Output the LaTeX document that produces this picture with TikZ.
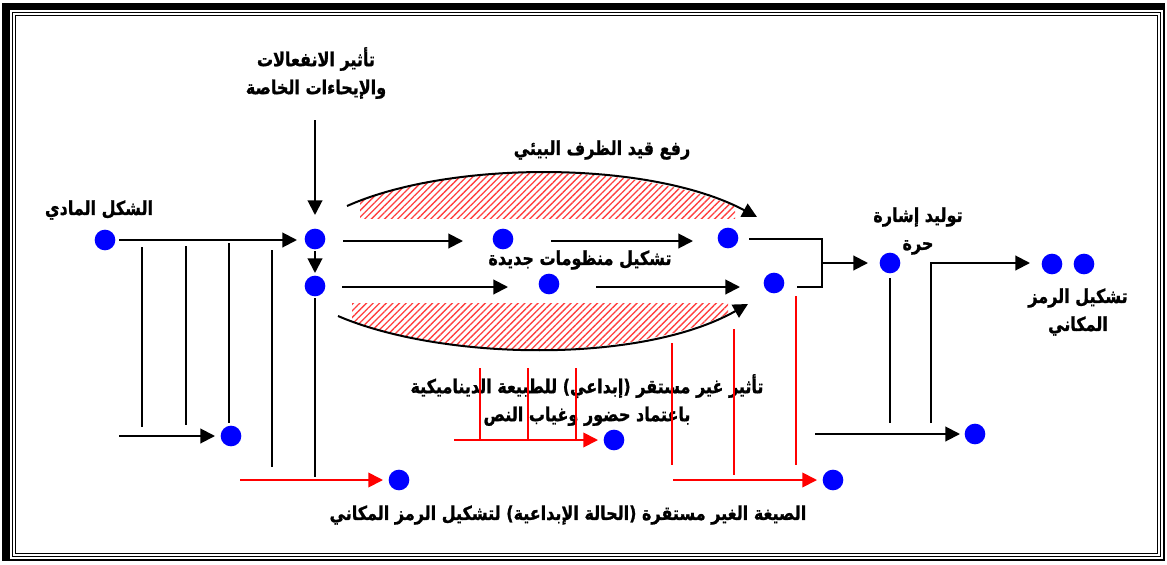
\documentclass[tikz,border=0pt]{standalone}
\usepackage{fontspec}
\usepackage{graphicx}
\newfontfamily\arabicfont[Script=Arabic,BoldFeatures={FakeBold=1.2}]{DejaVu Sans}
\TeXXeTstate=1
\usetikzlibrary{arrows.meta,patterns.meta,calc}
\newcommand\AR[1]{\scalebox{1}[1.2]{\beginR #1\endR}}
\begin{document}
\begin{tikzpicture}[x=0.75pt,y=-0.75pt,
  dot/.style={circle,fill=blue,inner sep=0,minimum size=15.5pt},
  ln/.style={line width=1.5pt},
  blk/.style={ln,-{Triangle[length=11pt,width=11pt]}},
  rd/.style={line width=1.3pt,red},
  rda/.style={rd,-{Triangle[length=11pt,width=11pt]}},
  lbl/.style={font=\arabicfont\bfseries\fontsize{12}{21}\selectfont,inner sep=0,align=center},
  hatch/.style={pattern={Lines[angle=45,distance=3.5pt,line width=1pt]},pattern color=red!75}]
\useasboundingbox (0,0) rectangle (1167,564);
% frame
\fill[black] (2,3) rectangle (1165,561);
\fill[white] (10,10) rectangle (1163,559);
\draw[line width=1.1pt] (12.5,12.5) rectangle (1160.5,556.5);
\draw[line width=1.1pt] (15.5,15.5) rectangle (1157.5,553.5);
% dots
\node[dot] (A) at (105,240) {};
\node[dot] (B) at (315,239) {};
\node[dot] (C) at (315,286) {};
\node[dot] (D) at (503,239) {};
\node[dot] (E) at (728,238) {};
\node[dot] (F) at (549,284) {};
\node[dot] (G) at (774,283) {};
\node[dot] (H) at (890,263) {};
\node[dot] (I) at (1052,264) {};
\node[dot] (J) at (1084,264) {};
\node[dot] (K) at (231,436) {};
\node[dot] (L) at (399,480) {};
\node[dot] (M) at (614,440) {};
\node[dot] (N) at (833,480) {};
\node[dot] (O) at (975,434) {};
% hatched areas
\begin{scope}
\clip (360,150) rectangle (735,218);
\fill[hatch] (347,206) .. controls (450,160) and (650,160) .. (757,217) -- (757,240) -- (347,240) -- cycle;
\end{scope}
\begin{scope}
\clip (352,303) rectangle (728,370);
\fill[hatch] (338,316) .. controls (440,360) and (640,365) .. (748,304) -- (748,290) -- (338,290) -- cycle;
\end{scope}
% labels
\node[lbl] (tA) at (99,210) {\AR{الشكل المادي}};
\node[lbl] (tTop) at (316,73) {\AR{تأثير الانفعالات}\\\AR{والإيحاءات الخاصة}};
\node[lbl] (tRaf) at (602,150) {\AR{رفع قيد الظرف البيئي}};
\node[lbl] (tTash) at (580,260) {\AR{تشكيل منظومات جديدة}};
\node[lbl] (tH) at (918,231) {\AR{توليد إشارة}\\\AR{حرة}};
\node[lbl] (tIJ) at (1078,312) {\AR{تشكيل الرمز}\\\AR{المكاني}};
\node[lbl] (tMid) at (587,400) {\AR{تأثير غير مستقر (إبداعي)  للطبيعة الديناميكية}\\\AR{باعتماد حضور وغياب النص}};
\node[lbl] (tBot) at (568,515) {\AR{الصيغة الغير مستقرة (الحالة الإبداعية) لتشكيل الرمز المكاني}};
% coordinates
\coordinate (br) at (822,263);
% black connectors
\draw[blk] ($(B)+(0,-119)$) -- ($(B)+(0,-24)$);
\draw[blk] ($(A)+(14,0)$) -- ($(B)+(-18,1)$);
\draw[blk] ($(B)+(0,12)$) -- ($(C)+(0,-13)$);
\draw[blk] ($(B)+(28,2)$) -- ($(D)+(-40,2)$);
\draw[blk] ($(D)+(48,2)$) -- ($(E)+(-35,3)$);
\draw[blk] ($(C)+(27,1)$) -- ($(F)+(-41,3)$);
\draw[blk] ($(F)+(47,3)$) -- ($(G)+(-34,4)$);
\draw[ln] ($(E)+(21,1)$) -| (br) |- ($(G)+(23,4)$);
\draw[blk] (br) -- ($(H)+(-22,0)$);
\draw[blk] (931,423) |- ($(I)+(-22,-1)$);
\draw[ln] ($(H)+(0,15)$) -- (890,423);
\draw[blk] (815,434) -- ($(O)+(-15,0)$);
\draw[ln] (142,247) -- (142,427);
\draw[ln] (186,246) -- (186,425);
\draw[ln] (229,243) -- ($(K)+(-2,-13)$);
\draw[ln] (272,250) -- (272,467);
\draw[blk] (119,436) -- ($(K)+(-16,0)$);
\draw[ln] ($(C)+(0,12)$) -- (315,477);
% curved arrows
\draw[blk] (347,206) .. controls (450,160) and (650,160) .. (757,217);
\draw[blk] (338,316) .. controls (440,360) and (640,365) .. (748,304);
% red connectors
\draw[rda] (240,480) -- ($(L)+(-16,0)$);
\draw[rda] (454,440) -- ($(M)+(-16,0)$);
\draw[rd] (480,368) -- (480,440);
\draw[rd] (528,368) -- (528,440);
\draw[rd] (576,368) -- (576,440);
\draw[rd] (672,343) -- (672,465);
\draw[rd] (734,329) -- (734,475);
\draw[rd] (796,296) -- (796,465);
\draw[rda] (673,480) -- ($(N)+(-16,0)$);
\end{tikzpicture}
\end{document}
